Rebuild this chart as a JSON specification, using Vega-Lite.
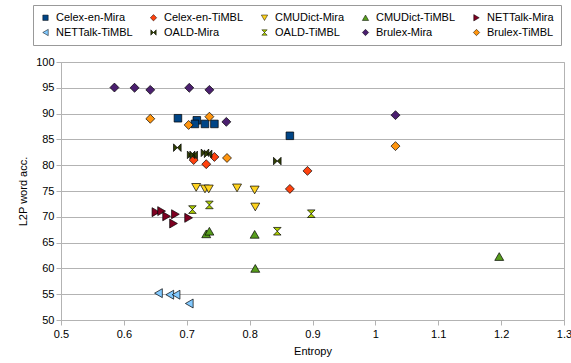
{
  "$schema": "https://vega.github.io/schema/vega-lite/v6.json",
  "width": 503,
  "height": 258,
  "autosize": "none",
  "padding": {"left": 61, "top": 62, "right": 7, "bottom": 43},
  "background": "white",
  "config": {
    "font": "Liberation Sans",
    "view": {"stroke": "#b3b3b3", "strokeWidth": 1},
    "axis": {
      "labelFont": "Liberation Sans",
      "titleFont": "Liberation Sans",
      "labelFontSize": 11,
      "titleFontSize": 11,
      "titleFontWeight": "normal",
      "labelColor": "#000",
      "titleColor": "#000",
      "domainColor": "#b3b3b3",
      "tickColor": "#b3b3b3",
      "gridColor": "#b3b3b3",
      "tickSize": 5
    }
  },
  "data": {
    "values": [
      {"series": "Celex-en-Mira", "entropy": 0.686, "acc": 89.1},
      {"series": "Celex-en-Mira", "entropy": 0.716, "acc": 88.7},
      {"series": "Celex-en-Mira", "entropy": 0.713, "acc": 88.0},
      {"series": "Celex-en-Mira", "entropy": 0.729, "acc": 88.0},
      {"series": "Celex-en-Mira", "entropy": 0.744, "acc": 88.0},
      {"series": "Celex-en-Mira", "entropy": 0.864, "acc": 85.7},
      {"series": "Celex-en-TiMBL", "entropy": 0.711, "acc": 81.0},
      {"series": "Celex-en-TiMBL", "entropy": 0.731, "acc": 80.2},
      {"series": "Celex-en-TiMBL", "entropy": 0.744, "acc": 81.6},
      {"series": "Celex-en-TiMBL", "entropy": 0.892, "acc": 78.9},
      {"series": "Celex-en-TiMBL", "entropy": 0.864, "acc": 75.4},
      {"series": "CMUDict-Mira", "entropy": 0.715, "acc": 75.7},
      {"series": "CMUDict-Mira", "entropy": 0.729, "acc": 75.4},
      {"series": "CMUDict-Mira", "entropy": 0.735, "acc": 75.4},
      {"series": "CMUDict-Mira", "entropy": 0.780, "acc": 75.6},
      {"series": "CMUDict-Mira", "entropy": 0.808, "acc": 75.2},
      {"series": "CMUDict-Mira", "entropy": 0.809, "acc": 71.9},
      {"series": "CMUDict-TiMBL", "entropy": 0.731, "acc": 66.7},
      {"series": "CMUDict-TiMBL", "entropy": 0.736, "acc": 67.2},
      {"series": "CMUDict-TiMBL", "entropy": 0.808, "acc": 66.6},
      {"series": "CMUDict-TiMBL", "entropy": 0.809, "acc": 60.0},
      {"series": "CMUDict-TiMBL", "entropy": 1.197, "acc": 62.3},
      {"series": "NETTalk-Mira", "entropy": 0.651, "acc": 70.9},
      {"series": "NETTalk-Mira", "entropy": 0.660, "acc": 71.1},
      {"series": "NETTalk-Mira", "entropy": 0.668, "acc": 70.1},
      {"series": "NETTalk-Mira", "entropy": 0.682, "acc": 70.5},
      {"series": "NETTalk-Mira", "entropy": 0.679, "acc": 68.7},
      {"series": "NETTalk-Mira", "entropy": 0.703, "acc": 69.8},
      {"series": "NETTalk-TiMBL", "entropy": 0.655, "acc": 55.2},
      {"series": "NETTalk-TiMBL", "entropy": 0.673, "acc": 54.9},
      {"series": "NETTalk-TiMBL", "entropy": 0.683, "acc": 54.9},
      {"series": "NETTalk-TiMBL", "entropy": 0.704, "acc": 53.2},
      {"series": "OALD-Mira", "entropy": 0.685, "acc": 83.4},
      {"series": "OALD-Mira", "entropy": 0.707, "acc": 82.0},
      {"series": "OALD-Mira", "entropy": 0.711, "acc": 82.0},
      {"series": "OALD-Mira", "entropy": 0.729, "acc": 82.4},
      {"series": "OALD-Mira", "entropy": 0.734, "acc": 82.2},
      {"series": "OALD-Mira", "entropy": 0.844, "acc": 80.8},
      {"series": "OALD-TiMBL", "entropy": 0.709, "acc": 71.4},
      {"series": "OALD-TiMBL", "entropy": 0.736, "acc": 72.3},
      {"series": "OALD-TiMBL", "entropy": 0.844, "acc": 67.2},
      {"series": "OALD-TiMBL", "entropy": 0.898, "acc": 70.6},
      {"series": "Brulex-Mira", "entropy": 0.585, "acc": 95.05},
      {"series": "Brulex-Mira", "entropy": 0.617, "acc": 95.0},
      {"series": "Brulex-Mira", "entropy": 0.642, "acc": 94.6},
      {"series": "Brulex-Mira", "entropy": 0.704, "acc": 95.0},
      {"series": "Brulex-Mira", "entropy": 0.736, "acc": 94.6},
      {"series": "Brulex-Mira", "entropy": 0.763, "acc": 88.4},
      {"series": "Brulex-Mira", "entropy": 1.032, "acc": 89.7},
      {"series": "Brulex-TiMBL", "entropy": 0.642, "acc": 89.0},
      {"series": "Brulex-TiMBL", "entropy": 0.703, "acc": 87.8},
      {"series": "Brulex-TiMBL", "entropy": 0.736, "acc": 89.4},
      {"series": "Brulex-TiMBL", "entropy": 0.764, "acc": 81.4},
      {"series": "Brulex-TiMBL", "entropy": 1.032, "acc": 83.7}
    ]
  },
  "mark": {"type": "point", "filled": true, "opacity": 1, "size": 80, "stroke": "#000", "strokeWidth": 0.7},
  "encoding": {
    "x": {
      "field": "entropy",
      "type": "quantitative",
      "title": "Entropy",
      "scale": {"domain": [0.5, 1.3], "nice": false, "zero": false},
      "axis": {"values": [0.5, 0.6, 0.7, 0.8, 0.9, 1, 1.1, 1.2, 1.3], "format": "~g", "grid": false, "labelPadding": 3, "titlePadding": 6, "labelFlush": false}
    },
    "y": {
      "field": "acc",
      "type": "quantitative",
      "title": "L2P word acc.",
      "scale": {"domain": [50, 100], "nice": false, "zero": false},
      "axis": {"values": [50, 55, 60, 65, 70, 75, 80, 85, 90, 95, 100], "grid": true, "labelPadding": 2, "titlePadding": 7}
    },
    "color": {
      "field": "series",
      "type": "nominal",
      "scale": {
        "domain": ["Celex-en-Mira", "Celex-en-TiMBL", "CMUDict-Mira", "CMUDict-TiMBL", "NETTalk-Mira", "NETTalk-TiMBL", "OALD-Mira", "OALD-TiMBL", "Brulex-Mira", "Brulex-TiMBL"],
        "range": ["#004586", "#ff420e", "#ffd320", "#579d1c", "#7e0021", "#83caff", "#314004", "#aecf00", "#4b1f6f", "#ff950e"]
      },
      "legend": {
        "title": null,
        "orient": "none",
        "legendX": -28,
        "legendY": -57,
        "columns": 5,
        "direction": "horizontal",
        "strokeColor": "#999",
        "padding": 7,
        "labelFont": "Liberation Sans",
        "labelFontSize": 11,
        "labelColor": "#000",
        "symbolSize": 40,
        "symbolStrokeColor": "#000",
        "symbolStrokeWidth": 0.5,
        "labelOffset": 5,
        "columnPadding": 15,
        "rowPadding": 3
      }
    },
    "shape": {
      "field": "series",
      "type": "nominal",
      "scale": {
        "domain": ["Celex-en-Mira", "Celex-en-TiMBL", "CMUDict-Mira", "CMUDict-TiMBL", "NETTalk-Mira", "NETTalk-TiMBL", "OALD-Mira", "OALD-TiMBL", "Brulex-Mira", "Brulex-TiMBL"],
        "range": ["M-0.85,-0.85H0.85V0.85H-0.85Z", "diamond", "triangle-down", "triangle-up", "triangle-right", "triangle-left", "M-0.85,-0.85L0.85,0.85L0.85,-0.85L-0.85,0.85Z", "M-0.85,-0.85L0.85,-0.85L-0.85,0.85L0.85,0.85Z", "diamond", "diamond"]
      },
      "legend": null
    }
  }
}
